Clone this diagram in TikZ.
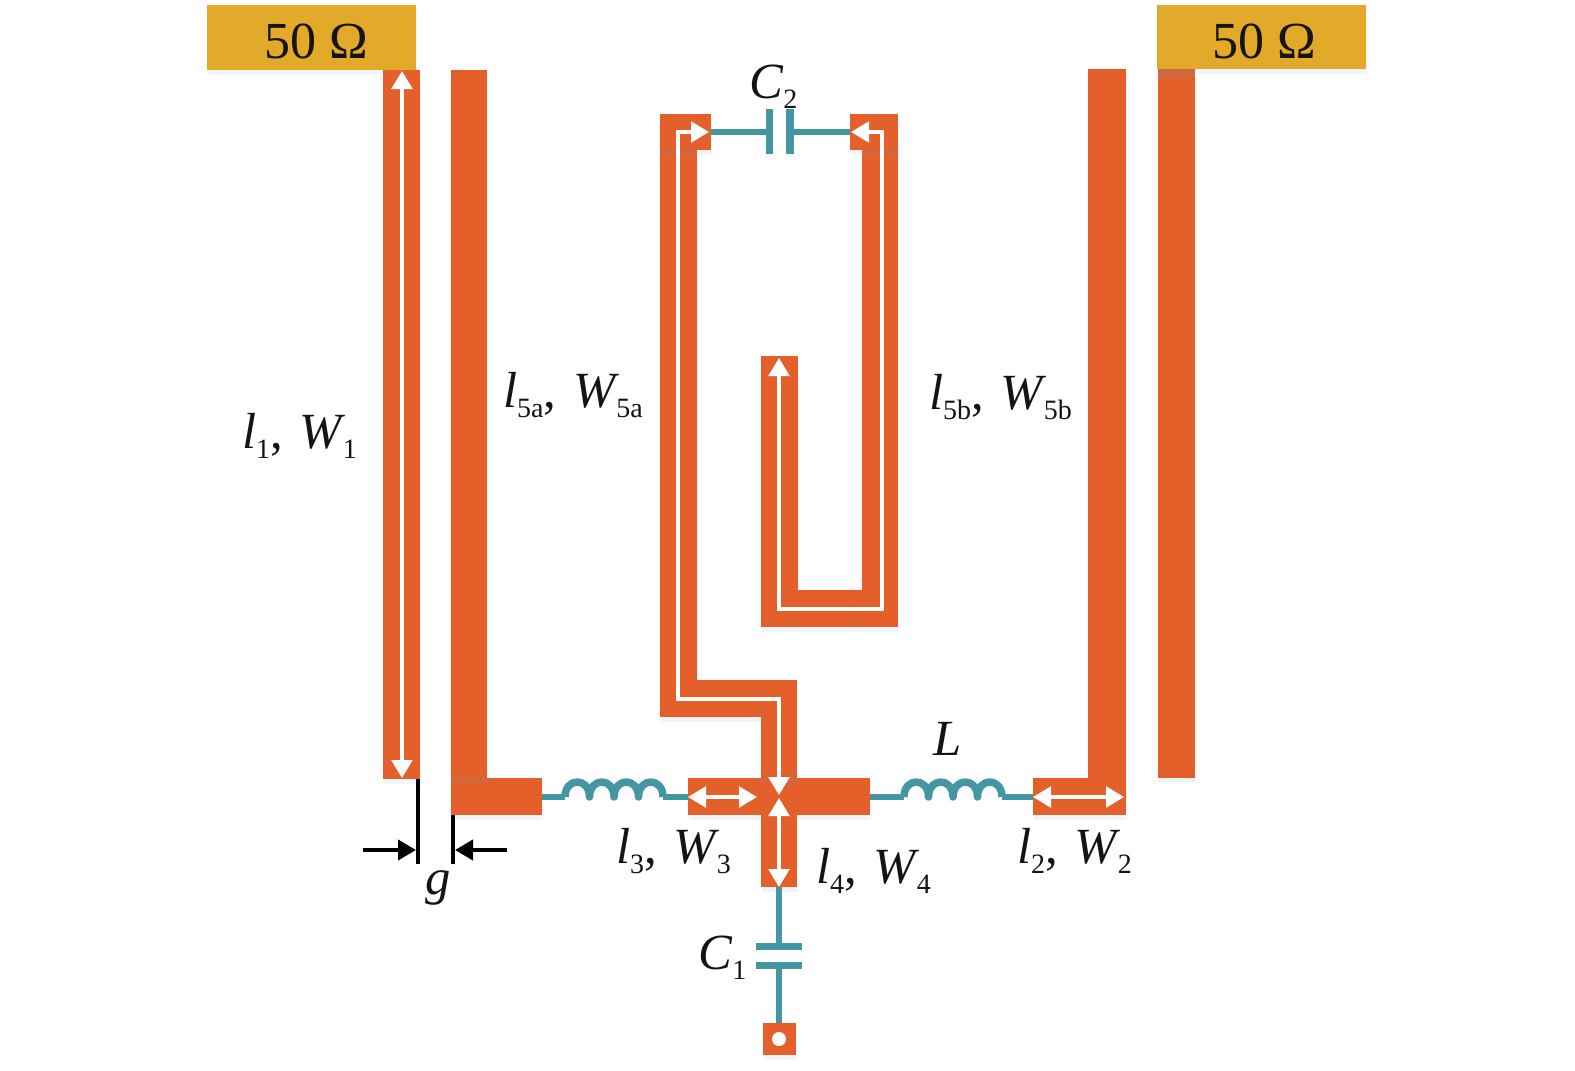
\documentclass[tikz,border=0pt]{standalone}
\usepackage{fontspec}
\setmainfont{Liberation Serif}
\usetikzlibrary{arrows.meta}
\definecolor{stripcol}{HTML}{E55F2B}
\definecolor{wirecol}{HTML}{4496A3}
\definecolor{portcol}{HTML}{E3A928}
\definecolor{shadowcol}{HTML}{F0F5FA}
\definecolor{seamcol}{HTML}{D0683F}
\definecolor{inkcol}{HTML}{141414}
\newcommand{\subt}[1]{\raisebox{-7.5pt}{\fontsize{21}{21}\selectfont\upshape #1}}
\newcommand{\lwlabel}[3]{\textit{#1}\subt{#2},\kern 12.8pt\textit{W}\kern -2.2pt\subt{#3}}
\newcommand{\orangeparts}[1]{%
  \fill[#1] (383,70) rectangle (420,779);
  \fill[#1] (451,70) rectangle (487,815);
  \fill[#1] (451,778) rectangle (542,815);
  \fill[#1] (1088,69) rectangle (1126,815);
  \fill[#1] (1033,778) rectangle (1126,815);
  \fill[#1] (1158,69) rectangle (1195,778);
  \fill[#1] (660,114) rectangle (711,150);
  \fill[#1] (660,114) rectangle (697,717);
  \fill[#1] (660,680) rectangle (797,717);
  \fill[#1] (761,680) rectangle (797,887);
  \fill[#1] (688,778) rectangle (870,815);
  \fill[#1] (850,114) rectangle (898,150);
  \fill[#1] (862,114) rectangle (898,627);
  \fill[#1] (761,590) rectangle (898,627);
  \fill[#1] (761,356) rectangle (798,627);
  \fill[#1] (763,1023) rectangle (796,1055);
}
\newcommand{\coilwire}[1]{%
  \draw[wirestyle, line width=5.6pt] (#1,797)
    .. controls +(0,-20) and +(0,-20) .. ++(24.5,0)
    .. controls +(0,-20) and +(0,-20) .. ++(24.5,0)
    .. controls +(0,-20) and +(0,-20) .. ++(24.5,0)
    .. controls +(0,-20) and +(0,-20) .. ++(24.5,0);
}
\tikzset{
  x=0.75pt, y=-0.75pt,
  wirestyle/.style={draw=wirecol, line width=5.2pt, line join=round},
  platestyle/.style={fill=wirecol},
  dimarrow/.style={draw=white, line width=2.7pt, {Triangle[length=13.5pt,width=15.5pt]}-{Triangle[length=13.5pt,width=15.5pt]}},
  blackline/.style={draw=black, line width=3pt},
  blackarrow/.style={draw=black, line width=3pt, -{Triangle[length=13.5pt,width=15pt]}},
  txt/.style={anchor=base west, inner sep=0pt, outer sep=0pt, text=inkcol, font=\fontsize{38}{38}\selectfont},
  porttxt/.style={txt, font=\fontsize{39}{39}\selectfont},
  seam/.style={fill=seamcol},
}
\begin{document}
\begin{tikzpicture}
\useasboundingbox (0,0) rectangle (1575,1071);
\fill[white] (0,0) rectangle (1575,1071);
% soft shadows
\begin{scope}[shift={(1,5)}]
  \orangeparts{shadowcol}
  \fill[shadowcol] (207,5) rectangle (416,70);
  \fill[shadowcol] (1157,5) rectangle (1366,69);
\end{scope}
% teal wires
\coordinate (lwa) at (542,797);
\coordinate (lwb) at (565,797);
\coordinate (lwc) at (663,797);
\coordinate (lwd) at (688,797);
\draw[wirestyle] (lwa) -- (lwb);
\coilwire{565}
\draw[wirestyle] (lwc) -- (lwd);
\coordinate (rwa) at (870,797);
\coordinate (rwb) at (904,797);
\coordinate (rwc) at (1002,797);
\coordinate (rwd) at (1033,797);
\draw[wirestyle] (rwa) -- (rwb);
\coilwire{904}
\draw[wirestyle] (rwc) -- (rwd);
% C2
\coordinate (c2a) at (711,132);
\coordinate (c2b) at (769,132);
\coordinate (c2c) at (790,132);
\coordinate (c2d) at (850,132);
\draw[wirestyle] (c2a) -- (c2b);
\draw[wirestyle] (c2c) -- (c2d);
\fill[platestyle] (766,109) rectangle (773,154);
\fill[platestyle] (786,109) rectangle (794,154);
% C1
\coordinate (c1a) at (779,887);
\coordinate (c1b) at (779,946);
\coordinate (c1c) at (779,965);
\coordinate (c1d) at (779,1023);
\draw[wirestyle] (c1a) -- (c1b);
\draw[wirestyle] (c1c) -- (c1d);
\fill[platestyle] (756,942.5) rectangle (802,950);
\fill[platestyle] (756,961.5) rectangle (802,969);
% orange strips
\orangeparts{stripcol}
% seams
\fill[seam] (660,150) rectangle (697,155);
\fill[seam] (862,150) rectangle (898,155);
\fill[seam] (451,778) rectangle (487,783);
\fill[seam] (761,778) rectangle (797,783);
\fill[seam] (1158,69) rectangle (1195,78);
\fill[seam] (761,680) rectangle (762,717);
\fill[seam] (798,590) rectangle (799,627);
\fill[seam] (861,590) rectangle (862,627);
% ports
\fill[portcol] (207,5) rectangle (416,70);
\fill[portcol] (1157,5) rectangle (1366,69);
% via
\fill[white] (779,1039) circle (7);
% white dimension arrows
\coordinate (a1t) at (402,71);
\coordinate (a1b) at (402,778);
\draw[dimarrow] (a1t) -- (a1b);
\coordinate (a3l) at (688,797);
\coordinate (a3r) at (757,797);
\draw[dimarrow] (a3l) -- (a3r);
\coordinate (a2l) at (1033,797);
\coordinate (a2r) at (1124,797);
\draw[dimarrow] (a2l) -- (a2r);
\coordinate (a4t) at (779,798);
\coordinate (a4b) at (779,887);
\draw[dimarrow] (a4t) -- (a4b);
\coordinate (a5s) at (709,132);
\coordinate (a5e) at (779,795);
\draw[dimarrow] (a5s) -- (678,132) -- (678,699) -- (779,699) -- (a5e);
\coordinate (a6s) at (851,132);
\coordinate (a6e) at (779,358);
\draw[dimarrow] (a6s) -- (882,132) -- (882,609) -- (779,609) -- (a6e);
% gap dimension
\coordinate (g1t) at (418,779);
\coordinate (g1b) at (418,864);
\coordinate (g2t) at (453,815);
\coordinate (g2b) at (453,864);
\draw[blackline] (g1t) -- (g1b);
\draw[blackline] (g2t) -- (g2b);
\coordinate (g1s) at (363,850);
\coordinate (g1e) at (416,850);
\coordinate (g2s) at (507,850);
\coordinate (g2e) at (455,850);
\draw[blackarrow] (g1s) -- (g1e);
\draw[blackarrow] (g2s) -- (g2e);
% text
\node[porttxt] (portl) at (264,58) {50 Ω};
\node[porttxt] (portr) at (1212,58) {50 Ω};
\node[txt] (c2lab) at (749,98) {\textit{C}\subt{2}};
\node[txt] (c1lab) at (698,969) {\textit{C}\subt{1}};
\node[txt] (llab) at (933,755) {\textit{L}};
\node[txt] (glab) at (425,894) {\textit{g}};
\node[txt] (l1lab) at (242,448) {\lwlabel{l}{1}{1}};
\node[txt] (l5alab) at (503,407) {\lwlabel{l}{5a}{5a}};
\node[txt] (l5blab) at (929,409) {\lwlabel{l}{5b}{5b}};
\node[txt] (l3lab) at (616,863) {\lwlabel{l}{3}{3}};
\node[txt] (l4lab) at (816,883) {\lwlabel{l}{4}{4}};
\node[txt] (l2lab) at (1017,863) {\lwlabel{l}{2}{2}};
\end{tikzpicture}
\end{document}
